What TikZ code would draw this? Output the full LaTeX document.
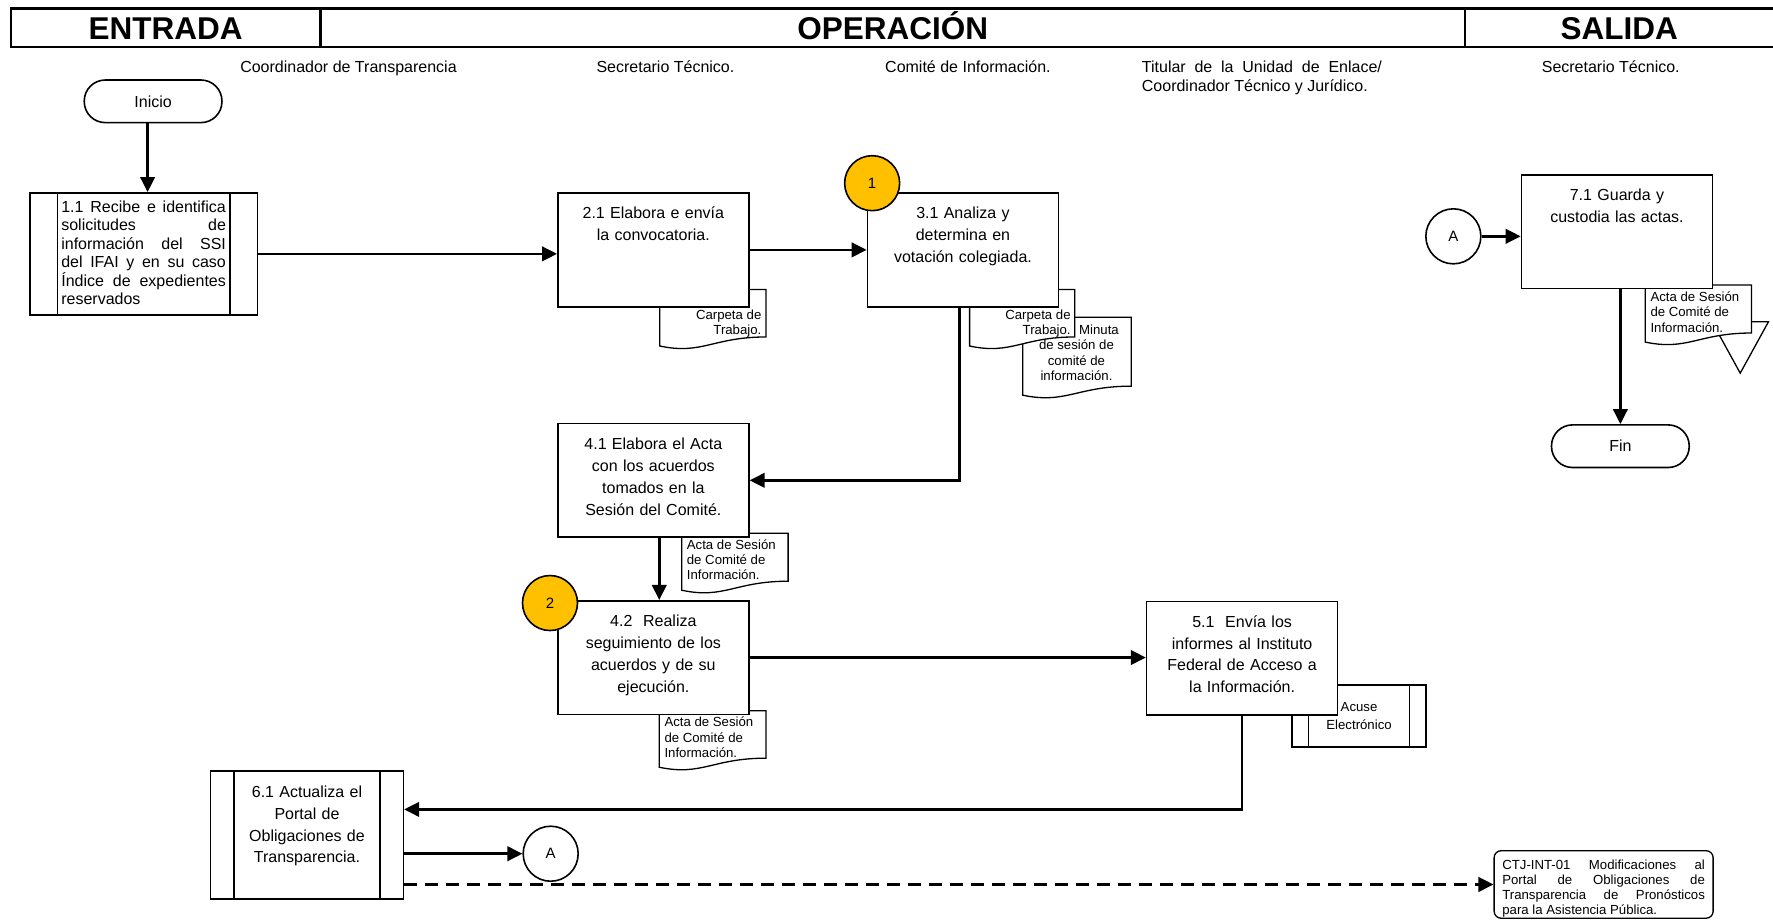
\documentclass[tikz,border=0pt]{standalone}
\usepackage{fontspec}
\setmainfont{Liberation Sans}
\usetikzlibrary{arrows.meta}
\definecolor{amarillo}{HTML}{FFC000}
\newcommand{\fsmain}{\fontsize{16pt}{21.9pt}\selectfont}
\newcommand{\fsjust}{\fontsize{16pt}{18.4pt}\selectfont}
\newcommand{\fslane}{\fontsize{16pt}{19.2pt}\selectfont}
\newcommand{\fsdoc}{\fontsize{13.2pt}{15.4pt}\selectfont}
\newcommand{\fsnota}{\fontsize{13.2pt}{15pt}\selectfont}
\newcommand{\fshead}{\fontsize{31.5pt}{36pt}\selectfont\bfseries}
\newcommand{\docshape}[4]{%
  \filldraw[doc] (#1,#2) -- (#3,#2) -- (#3,{#4-8})
    .. controls ({#1+0.5*(#3-#1)},{#4-8}) and ({#1+0.4*(#3-#1)},{#4+8}) .. (#1,#4) -- cycle;}

\begin{document}
\begin{tikzpicture}[x=1.1307pt, y=-1.1307pt,
    hdr/.style={line width=2.4pt},
    lane/.style={anchor=base, inner sep=0pt, font=\fslane},
    proc/.style={draw, line width=1.6pt, fill=white, font=\fsmain, align=center,
      text width=180pt, inner xsep=5.5pt, inner ysep=0pt,
      text height=25.8pt, text depth=87.8pt},
    subproc/.style={draw, line width=1.6pt, fill=white, path picture={
      \draw[line width=1.6pt]
        ([xshift=#1]path picture bounding box.north west) -- ([xshift=#1]path picture bounding box.south west)
        ([xshift=-#1]path picture bounding box.north east) -- ([xshift=-#1]path picture bounding box.south east);}},
    term/.style={draw, line width=1.6pt, fill=white, rounded corners=21pt,
      minimum width=137.7pt, minimum height=42.6pt, font=\fsmain},
    conector/.style={circle, draw, line width=1.6pt, fill=white, minimum size=55pt,
      inner sep=0pt, font=\fontsize{15pt}{18pt}\selectfont},
    marca/.style={conector, fill=amarillo},
    doc/.style={line width=1.3pt, fill=white},
    doctxt/.style={font=\fsdoc, inner sep=0pt},
    nota/.style={draw, line width=1.3pt, fill=white, rounded corners=7pt, font=\fsnota,
      align=justify, text width=202.6pt, inner xsep=8.2pt, inner ysep=0pt,
      text height=19pt, text depth=48.5pt},
    flecha/.style={line width=2.5pt, -{Triangle[length=15pt,width=14.5pt]}}]
\useasboundingbox (0,0) rectangle (1568,814);

\draw[hdr] (9.5,7.4) rectangle (1572,41.3);
\draw[hdr] (283.6,7.4) -- (283.6,41.3) (1295.5,7.4) -- (1295.5,41.3);
\node[anchor=base, font=\fshead] (hent) at (146.5,34.6) {ENTRADA};
\node[anchor=base, font=\fshead] (hope) at (789.5,34.6) {OPERACIÓN};
\node[anchor=base, font=\fshead] (hsal) at (1432,34.6) {SALIDA};

\node[lane] (l1) at (308.2,64) {Coordinador de Transparencia};
\node[lane] (l2) at (588.5,64) {Secretario Técnico.};
\node[lane] (l3) at (856,64) {Comité de Información.};
\node[lane, anchor=north west, text width=240pt, align=justify] (l4) at (1009.7,53.8)
  {Titular de la Unidad de Enlace/\linebreak Coordinador Técnico y Jurídico.};
\node[lane] (l5) at (1424.5,64) {Secretario Técnico.};

\docshape{583.5}{256}{677.5}{306}
\node[doctxt, anchor=east, align=right] (t21) at (673.5,286) {Carpeta de\\Trabajo.};
\docshape{904.5}{280.5}{1000.5}{349.5}
\node[doctxt, align=center] (tmin) at (952,312) {\hspace*{45pt}Minuta\\de sesión de\\comité de\\información.};
\docshape{857.5}{256}{950.5}{306}
\node[doctxt, anchor=east, align=right] (t31) at (947,286) {Carpeta de\\Trabajo.};
\docshape{603}{471.5}{697}{522}
\node[doctxt, anchor=west, align=left] (t41) at (607.3,495) {Acta de Sesión\\de Comité de\\Información.};
\docshape{583}{628.5}{677.5}{678.5}
\node[doctxt, anchor=west, align=left] (t42) at (587.5,652) {Acta de Sesión\\de Comité de\\Información.};
\draw[doc] (1514,284.5) -- (1564,284.5) -- (1539,330) -- cycle;
\docshape{1455}{252}{1549}{302.5}
\node[doctxt, anchor=west, align=left] (t71) at (1459.5,276) {Acta de Sesión\\de Comité de\\Información.};
\node[subproc=16.7pt, minimum width=134.3pt, minimum height=61.7pt, inner sep=0pt,
  font=\fontsize{13.2pt}{17.8pt}\selectfont, align=center] (acuse) at (1201.9,633.1) {Acuse\\Electrónico};

\node[term] (inicio) at (135.4,89.6) {Inicio};
\node[subproc=27.5pt, font=\fsjust, align=justify, text width=164.6pt, inner xsep=31.4pt,
  inner ysep=0pt, text height=19.7pt, text depth=102.3pt] (p11) at (127,224.5)
  {1.1 Recibe e identifica\linebreak solicitudes de\linebreak información del SSI\linebreak
   del IFAI y en su caso\linebreak Índice de expedientes\linebreak reservados};
\node[proc] (p21) at (577.8,221) {2.1 Elabora e envía\\la convocatoria.};
\node[proc] (p31) at (851.6,221) {3.1 Analiza y\\determina en\\votación colegiada.};
\node[proc] (p41) at (577.8,424.8) {4.1 Elabora el Acta\\con los acuerdos\\tomados en la\\Sesión del Comité.};
\node[proc] (p42) at (577.8,581.5) {4.2\ \ Realiza\\seguimiento de los\\acuerdos y de su\\ejecución.};
\node[proc] (p51) at (1098.5,582) {5.1\ \ Envía los\\informes al Instituto\\Federal de Acceso a\\la Información.};
\node[subproc=23.4pt, font=\fsmain, align=center, text width=146pt, inner xsep=23.35pt,
  inner ysep=0pt, text height=26.5pt, text depth=101.8pt] (p61) at (271.5,738.35)
  {6.1 Actualiza el\\Portal de\\Obligaciones de\\Transparencia.};
\node[proc] (p71) at (1430,205) {7.1 Guarda y\\custodia las actas.};
\node[marca] (m1) at (771.3,162) {1};
\node[marca] (m2) at (486.4,533.3) {2};
\node[conector] (a1) at (487,755) {A};
\node[conector] (a2) at (1285.3,209) {A};
\node[term] (fin) at (1433,394.6) {Fin};
\node[nota] (ctj) at (1418.2,782.2)
  {CTJ-INT-01 Modificaciones al\linebreak Portal de Obligaciones de\linebreak
   Transparencia de Pronósticos\linebreak para la Asistencia Pública.};

\draw[flecha] ([xshift=-5.5pt]inicio.south) -- ([xshift=-5.5pt]inicio.south |- p11.north);
\draw[flecha] (p11.east) -- (p11.east -| p21.west);
\draw[flecha] (p21.east) -- (p31.west);
\draw[flecha] ([xshift=-3.6pt]p31.south) |- (p41.east);
\draw[flecha] ([xshift=5.9pt]p41.south) -- ([xshift=5.9pt]p42.north);
\draw[flecha] (p42.east) -- (p42.east -| p51.west);
\draw[flecha] (p51.south) |- ([yshift=25.5pt]p61.east);
\draw[flecha] (a1.west -| p61.east) -- (a1.west);
\draw[flecha, dash pattern=on 13pt off 8pt] (ctj.west -| p61.east) -- (ctj.west);
\draw[flecha] (a2.east) -- (a2.east -| p71.west);
\draw[flecha] (fin.north |- p71.south) -- (fin.north);
\end{tikzpicture}
\end{document}
